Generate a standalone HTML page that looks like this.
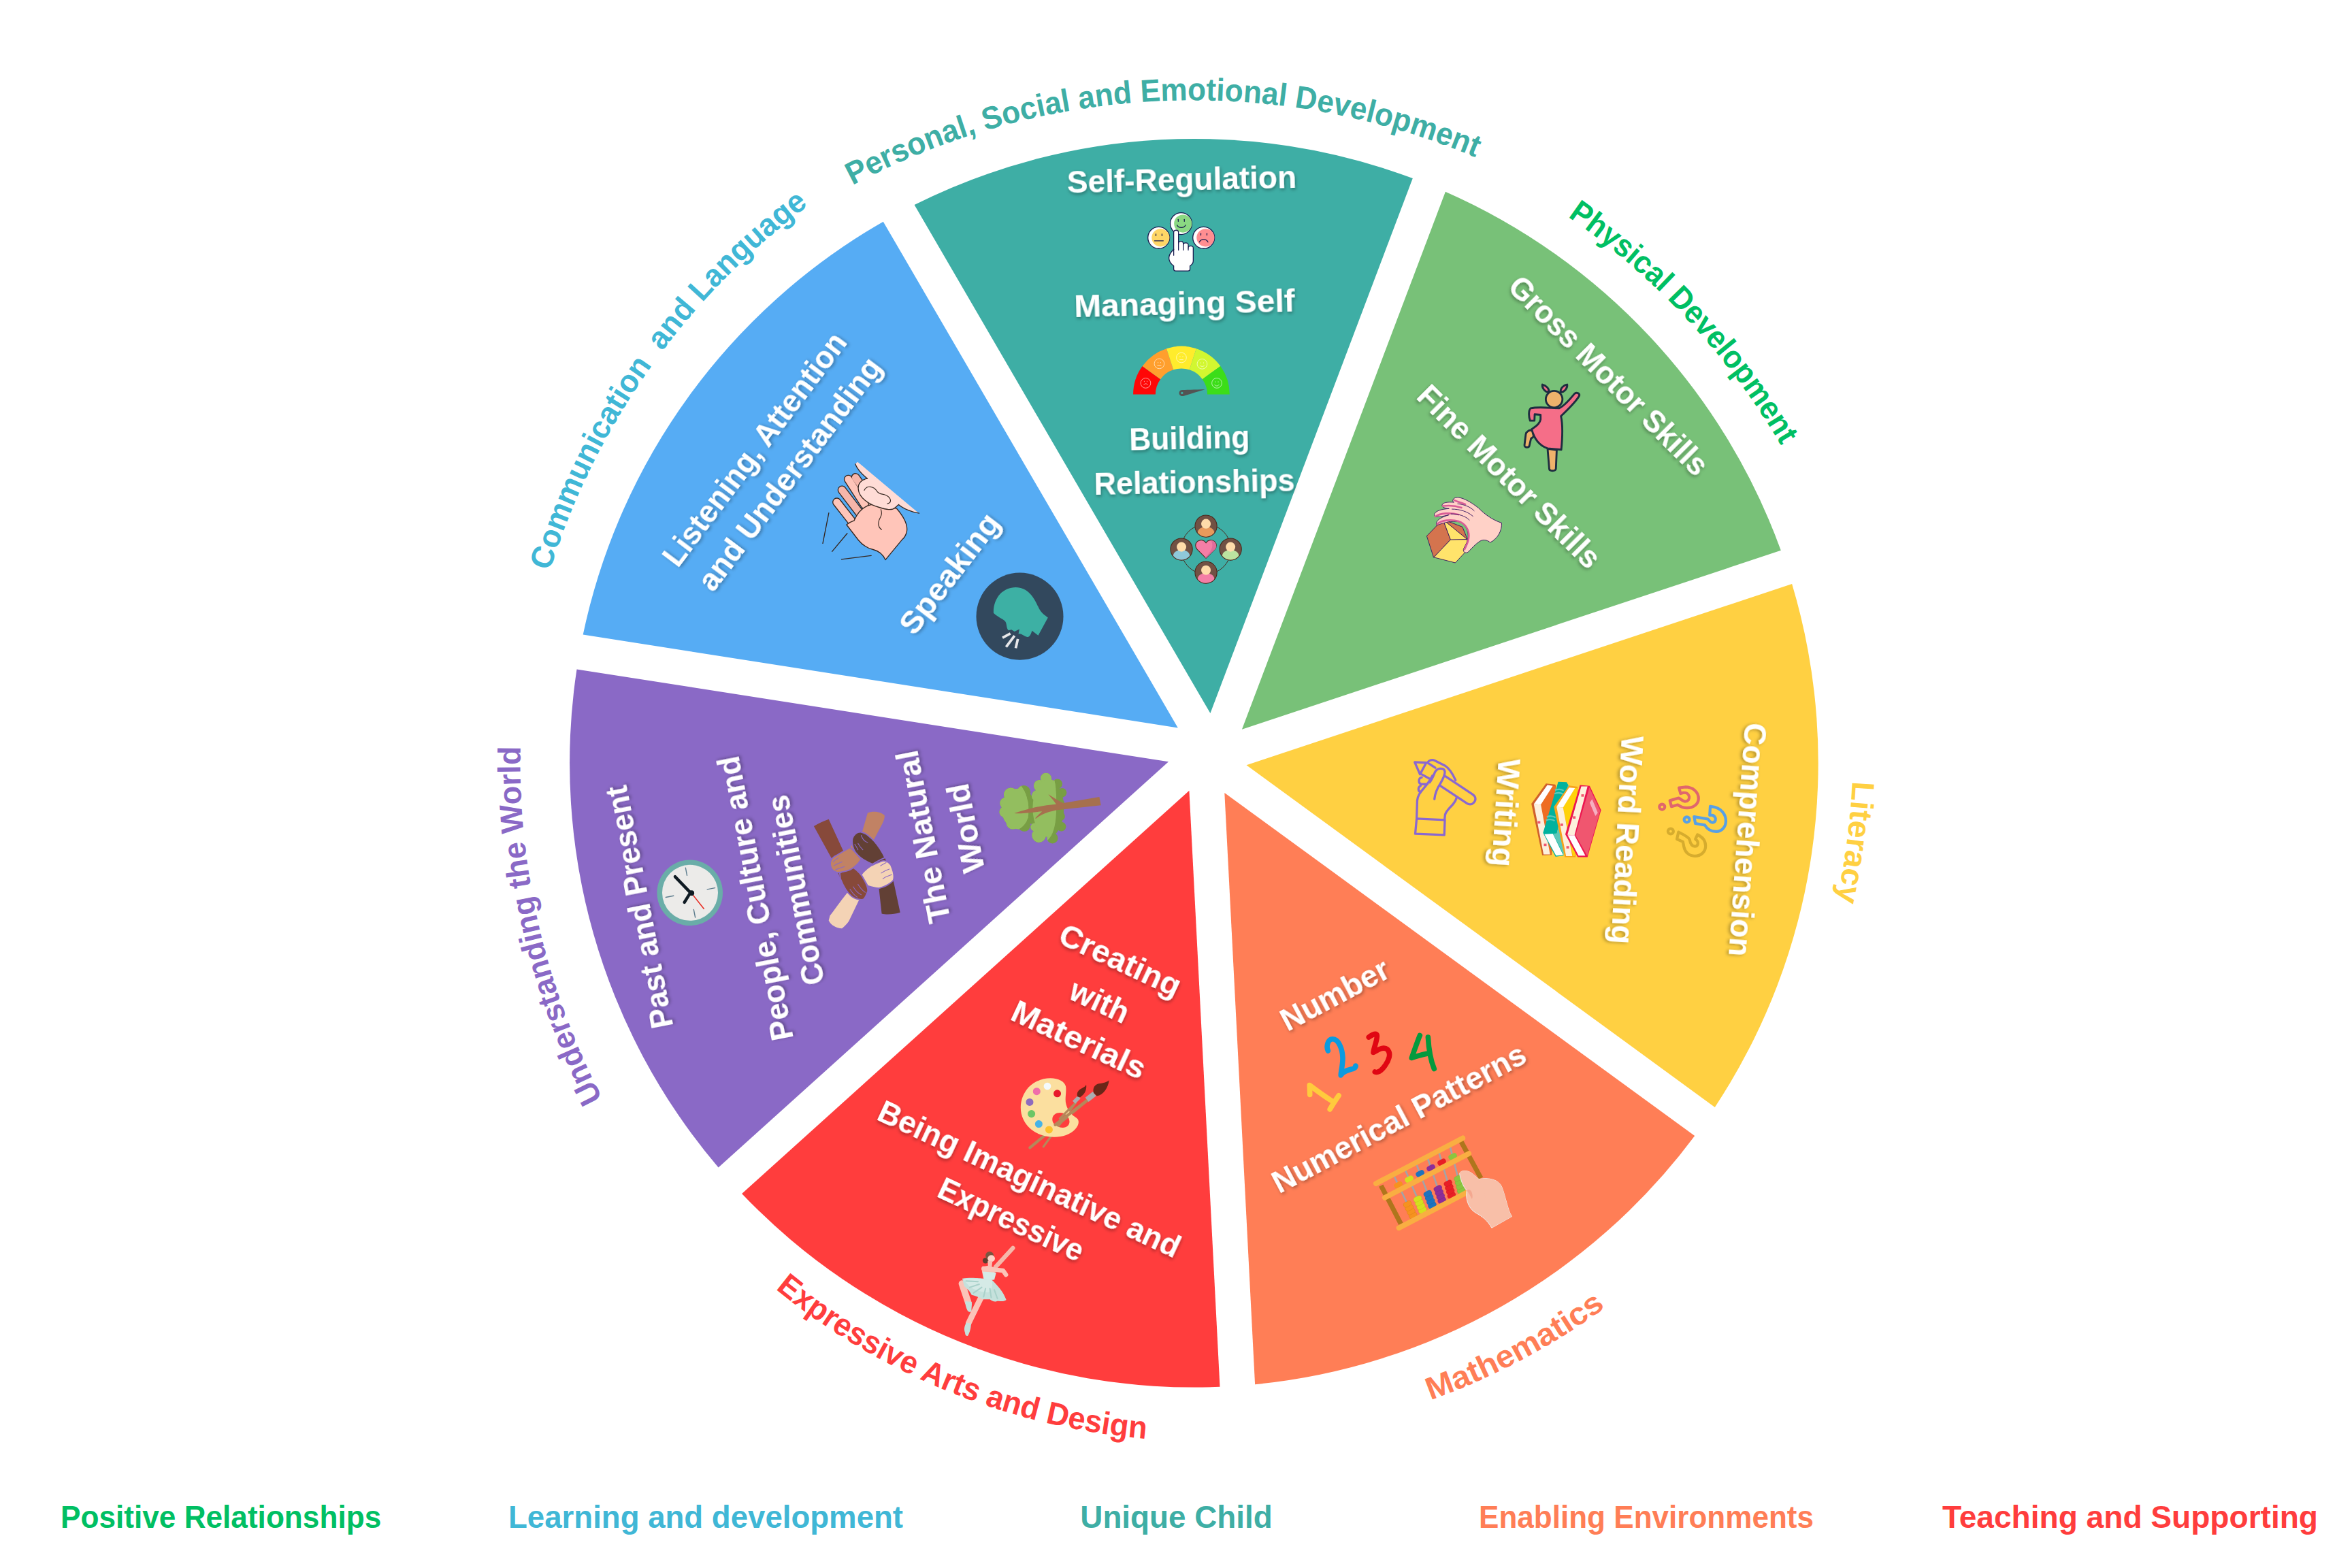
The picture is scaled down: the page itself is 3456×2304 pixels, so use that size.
<!DOCTYPE html>
<html><head><meta charset="utf-8"><style>html,body{margin:0;padding:0;background:#fff;overflow:hidden}svg{display:block}</style></head>
<body><svg xmlns="http://www.w3.org/2000/svg" width="3456" height="2304" viewBox="0 0 3456 2304" font-family="'Liberation Sans', sans-serif" font-weight="bold">
<defs>
<filter id="sh" x="-10%" y="-30%" width="120%" height="160%"><feDropShadow dx="1" dy="2.5" stdDeviation="2.5" flood-color="#000" flood-opacity="0.35"/></filter>
<path id="c_psed" d="M1252.6,272.2 A1066,1066 0 0 1 2478.9,432.4"/>
<path id="c_phys" d="M2303.6,318.3 A1066,1066 0 0 1 2747.0,1001.3"/>
<path id="c_lit" d="M2721.9,1147.8 A1066,1066 0 0 1 2558.1,1666.5"/>
<path id="c_math" d="M2102.0,2057.3 A1014.7,1014.7 0 0 0 2603.4,1667.0"/>
<path id="c_ead" d="M1139.4,1894.0 A995.7,995.7 0 0 0 2028.4,2083.1"/>
<path id="c_utw" d="M885.7,1614.1 A1066,1066 0 0 1 837.2,733.6"/>
<path id="c_cl" d="M807.9,839.2 A1066,1066 0 0 1 1518.8,135.5"/>
</defs>
<rect width="3456" height="2304" fill="#fff"/>
<path fill="#3EAEA5" d="M1778.4,1048.1 L1343.6,301.1 A917.3,917.3 0 0 1 2075.8,262.1 Z"/>
<path fill="#78C178" d="M1824.9,1071.7 L2123.9,281.7 A917.3,917.3 0 0 1 2616.8,808.8 Z"/>
<path fill="#FFD042" d="M1831.5,1124.2 L2633.1,858.0 A917.3,917.3 0 0 1 2519.8,1626.9 Z"/>
<path fill="#FF7E56" d="M1799.3,1164.9 L2490.2,1669.1 A917.3,917.3 0 0 1 1844.1,2034.2 Z"/>
<path fill="#FF3D3D" d="M1747.4,1161.8 L1792.5,2037.8 A917.3,917.3 0 0 1 1090.1,1753.9 Z"/>
<path fill="#8A69C6" d="M1717.0,1119.3 L1055.6,1715.5 A917.3,917.3 0 0 1 847.5,983.4 Z"/>
<path fill="#56ACF4" d="M1730.8,1069.4 L856.7,932.5 A917.3,917.3 0 0 1 1297.8,325.7 Z"/>
<g id="speakhead" transform="translate(1430,840) scale(0.08929)">
<circle cx="767" cy="735" r="717" fill="#32485D"/>
<path fill="#3DB0A4" d="M335,680 C330,420 500,258 700,258 C900,260 1000,420 1080,600 C1120,680 1180,720 1230,755 L1070,1050 L968,972 C950,1030 930,1080 890,1075 C840,1070 800,1010 745,1025 L760,945 L680,985 L630,955 L580,965 C540,930 560,850 520,810 C480,770 420,760 335,680 Z"/>
<g stroke="#E8E8EA" stroke-width="42"><line x1="482" y1="1088" x2="612" y2="1018"/><line x1="542" y1="1238" x2="680" y2="1055"/><line x1="700" y1="1258" x2="735" y2="1108"/></g>
</g>
<g id="earhand" transform="translate(1200,670) scale(0.10204)" stroke-linejoin="round" stroke-linecap="round">
<path fill="#FFDCD6" d="M590,85 L1460,815 C1380,815 1250,760 1180,700 L1100,770 L700,700 L600,480 L620,380 L730,325 C660,270 590,200 555,115 Z"/>
<path fill="none" stroke="#35261F" stroke-width="13" d="M555,115 C590,200 660,270 730,325 M1180,700 C1250,760 1380,815 1475,825"/>
<g stroke="#35261F" stroke-width="13" fill="none"><line x1="175" y1="820" x2="88" y2="1258"/><line x1="440" y1="1115" x2="222" y2="1375"/><line x1="785" y1="1435" x2="358" y2="1488"/></g>
<g stroke="#35261F" stroke-width="128"><line x1="560" y1="310" x2="660" y2="450"/><line x1="455" y1="335" x2="690" y2="700"/><line x1="365" y1="490" x2="640" y2="850"/><line x1="290" y1="665" x2="560" y2="1010"/></g>
<g stroke-width="102"><line x1="560" y1="310" x2="660" y2="450" stroke="#F6B6AA"/><line x1="455" y1="335" x2="690" y2="700" stroke="#FFC5B9"/><line x1="365" y1="490" x2="640" y2="850" stroke="#F6B6AA"/><line x1="290" y1="665" x2="560" y2="1010" stroke="#FFC5B9"/></g>
<path fill="#FFC5B9" stroke="#35261F" stroke-width="13" d="M540,930 C600,790 690,720 790,700 L1150,755 C1250,870 1320,1000 1295,1100 C1280,1150 1260,1180 1235,1200 L990,1495 C950,1410 900,1370 820,1350 C720,1325 660,1285 600,1210 L430,990 C470,960 510,940 540,930 Z"/>
<path fill="#FFDCD6" stroke="#35261F" stroke-width="13" d="M730,325 C640,340 590,400 600,480 C610,600 750,700 900,740 C1000,770 1080,790 1130,745 L1180,700"/>
<path fill="none" stroke="#35261F" stroke-width="11" d="M685,495 C720,420 820,430 870,510 C910,560 950,540 1010,570 C1080,610 1080,680 1015,688 M925,770 C950,840 920,880 900,920 C880,980 890,1030 935,1060"/>
</g>
<g id="girl" transform="translate(2230,555) scale(0.0957)" stroke="#1E2D40" stroke-width="30" stroke-linejoin="round" stroke-linecap="round">
<path fill="#F56E88" d="M380,105 C440,120 490,170 480,225 C420,220 370,160 380,105 Z"/>
<path fill="#F56E88" d="M760,105 C700,115 650,170 660,225 C720,220 770,160 760,105 Z"/>
<path fill="#EEB26B" d="M460,1090 L600,1110 L588,1395 C585,1440 485,1440 485,1395 Z"/>
<path fill="#EEB26B" d="M160,820 C190,800 225,805 235,830 L245,905 L205,935 L180,1045 C170,1080 100,1075 105,1035 L125,870 C130,845 140,830 160,820 Z"/>
<path fill="#F56E88" d="M200,470 C320,440 540,470 640,468 C700,440 780,360 870,250 C900,215 960,240 945,280 C900,360 760,500 665,590 C695,720 690,900 670,1105 L460,1085 C340,1045 260,960 215,790 C260,760 340,720 352,640 L352,570 L262,562 L258,660 L192,660 C168,600 165,500 200,470 Z"/>
<circle cx="560" cy="330" r="128" fill="#EEB26B"/>
</g>

<g id="selfreg" transform="translate(1680,305) scale(0.06377)" stroke="#171A4E" stroke-linecap="round" stroke-linejoin="round">
<circle cx="355" cy="695" r="250" fill="#fff" stroke-width="20"/>
<circle cx="398" cy="695" r="205" fill="#FFD666" stroke="none"/>
<circle cx="870" cy="370" r="250" fill="#fff" stroke-width="20"/>
<circle cx="913" cy="370" r="205" fill="#8BD882" stroke="none"/>
<circle cx="1390" cy="695" r="250" fill="#fff" stroke-width="20"/>
<circle cx="1433" cy="695" r="205" fill="#FF8E91" stroke="none"/>
<g stroke-width="20" fill="none">
<line x1="290" y1="608" x2="290" y2="650"/><line x1="430" y1="608" x2="430" y2="650"/><line x1="258" y1="765" x2="460" y2="765"/>
<line x1="805" y1="272" x2="805" y2="318"/><line x1="945" y1="272" x2="945" y2="318"/><path d="M778,405 C810,480 940,480 972,405"/>
<line x1="1325" y1="600" x2="1325" y2="636"/><line x1="1465" y1="600" x2="1465" y2="636"/><path d="M1292,795 C1330,715 1450,715 1490,795"/>
</g>
<path fill="#fff" stroke-width="20" d="M700,960 L700,570 C700,505 810,505 810,570 L810,830 C810,760 920,760 920,830 L920,860 C920,800 1035,800 1035,860 L1035,930 C1035,870 1150,870 1150,930 L1150,1230 C1150,1280 1110,1320 1075,1345 L1075,1420 C1075,1445 1055,1460 1030,1460 L745,1460 C715,1460 700,1440 700,1415 L700,1345 C640,1300 590,1240 590,1160 C590,1080 640,1020 700,960 Z"/>
<g stroke-width="20" fill="none"><line x1="810" y1="830" x2="810" y2="980"/><line x1="920" y1="860" x2="920" y2="980"/><line x1="1035" y1="930" x2="1035" y2="980"/><line x1="700" y1="960" x2="700" y2="1100"/></g>
</g>
<g id="gauge" transform="translate(1655,500) scale(0.068027)">
<path fill="#FF0707" d="M148,1170 A1042,1042 0 0 1 346.98,557.54 L736.94,840.89 A560,560 0 0 0 630,1170 Z"/>
<path fill="#FF9F2D" d="M346.98,557.54 A1042,1042 0 0 1 868.00,179.02 L1016.96,637.41 A560,560 0 0 0 736.94,840.89 Z"/>
<path fill="#FFEC2C" d="M868.00,179.02 A1042,1042 0 0 1 1512.00,179.02 L1363.04,637.41 A560,560 0 0 0 1016.96,637.41 Z"/>
<path fill="#D2F730" d="M1512.00,179.02 A1042,1042 0 0 1 2033.02,557.54 L1643.06,840.89 A560,560 0 0 0 1363.04,637.41 Z"/>
<path fill="#3CDD19" d="M2033.02,557.54 A1042,1042 0 0 1 2232,1170 L1750,1170 A560,560 0 0 0 1643.06,840.89 Z"/>
<g fill="none" stroke="#fff" stroke-width="9">
<circle cx="418" cy="925" r="108"/><circle cx="712" cy="505" r="108"/><circle cx="1190" cy="375" r="108"/><circle cx="1638" cy="512" r="108"/><circle cx="1955" cy="925" r="108"/>
<path d="M375,965 C400,930 440,930 465,965 M668,548 L756,548 M1148,420 L1232,420 M1595,548 C1620,570 1660,570 1685,548 M1905,958 C1935,995 1975,995 2005,958"/>
<path d="M388,878 L388,900 M448,878 L448,900 M685,470 L685,492 M742,470 L742,492 M1160,342 L1160,362 M1220,342 L1220,362 M1608,478 L1608,498 M1668,478 L1668,498 M1925,888 L1925,910 M1985,888 L1985,910"/>
</g>
<path fill="#535353" d="M1185,1075 C1250,1070 1500,1065 1700,1062 C1500,1120 1320,1180 1230,1205 C1180,1215 1140,1180 1140,1140 C1140,1105 1160,1080 1185,1075 Z"/>
<circle cx="1203" cy="1138" r="25" fill="#3EAEA5"/>
</g>
<g id="people" transform="translate(1715,750) scale(0.07334)" stroke="#4A2418" stroke-width="14">
<defs>
<clipPath id="pc1"><circle cx="778" cy="315" r="212"/></clipPath>
<clipPath id="pc2"><circle cx="287" cy="778" r="212"/></clipPath>
<clipPath id="pc3"><circle cx="1270" cy="778" r="212"/></clipPath>
<clipPath id="pc4"><circle cx="778" cy="1243" r="212"/></clipPath>
</defs>
<circle cx="778" cy="778" r="498" fill="none" stroke-width="13"/>
<circle cx="778" cy="315" r="220" fill="#715144"/>
<circle cx="287" cy="778" r="220" fill="#715144"/>
<circle cx="1270" cy="778" r="220" fill="#715144"/>
<circle cx="778" cy="1243" r="220" fill="#715144"/>
<g stroke="none">
<ellipse cx="778" cy="440" rx="165" ry="112" fill="#E89A5C" clip-path="url(#pc1)"/>
<ellipse cx="287" cy="903" rx="165" ry="112" fill="#8FC8DA" clip-path="url(#pc2)"/>
<ellipse cx="1270" cy="903" rx="165" ry="112" fill="#BCE3A0" clip-path="url(#pc3)"/>
<ellipse cx="778" cy="1368" rx="165" ry="112" fill="#F47EA6" clip-path="url(#pc4)"/>
<circle cx="778" cy="268" r="96" fill="#FFDCAA"/>
<circle cx="287" cy="731" r="96" fill="#FFDCAA"/>
<circle cx="1270" cy="731" r="96" fill="#FFDCAA"/>
<circle cx="778" cy="1196" r="96" fill="#FFDCAA"/>
</g>
<path fill="#F47EA6" d="M778,650 C740,590 660,580 610,620 C560,660 555,730 600,780 L778,958 L955,780 C1000,730 995,660 945,620 C895,580 815,590 778,650 Z"/>
<path fill="#E06C9B" stroke="none" d="M870,600 C930,600 985,640 985,710 C985,750 970,770 945,795 L778,955 L760,940 C850,860 900,790 905,710 C908,660 895,625 870,600 Z"/>
</g>

<g id="cubehand" transform="translate(2090,720) scale(0.070135)" stroke="#33115E" stroke-width="13" stroke-linejoin="round" stroke-linecap="round">
<path fill="#D4744E" d="M95,960 L430,615 L590,1040 L240,1410 Z"/>
<path fill="#FFE36B" d="M590,1040 L240,1410 L690,1525 L900,1300 L945,1035 Z"/>
<path fill="#FFE36B" d="M430,615 L590,1040 L945,1035 Z"/>
<path fill="#D4744E" d="M430,615 L840,775 L945,1035 Z"/>
<path fill="#FFD1C7" d="M650,190 C700,110 900,160 1180,380 C1300,500 1450,620 1660,690 C1670,850 1580,1020 1420,1100 C1380,1060 1300,1030 1230,1060 C1150,1100 1050,1200 960,1300 C900,1340 840,1290 865,1230 C900,1150 960,1080 960,960 C955,800 870,690 760,665 C600,640 470,680 300,740 C260,640 400,570 560,520 C400,560 240,590 250,520 C260,440 400,400 560,390 C420,380 400,330 420,300 C450,250 600,250 660,260 C630,240 630,210 650,190 Z"/>
<g fill="none" stroke="#D95C96" stroke-width="36"><path d="M310,715 C400,630 600,610 760,655 C900,700 975,830 975,960 C975,1080 915,1180 885,1245"/><path d="M270,555 C380,480 600,470 760,515"/><path d="M430,335 C550,320 700,330 820,370"/><path d="M670,215 C720,240 800,262 900,300"/></g>
<g fill="none"><path d="M1060,550 C950,450 780,400 620,400"/><path d="M1085,435 C1000,350 870,300 740,290"/><path d="M985,630 C900,540 750,500 600,500"/></g>
</g>
<g id="pencilhand" transform="translate(2070,1105) scale(0.082893)" fill="none" stroke="#8A68D0" stroke-width="40" stroke-linejoin="round" stroke-linecap="round">
<path d="M140,1180 L640,1205 L630,1470 L115,1450 Z"/>
<path d="M140,1180 L150,860 C160,770 200,720 260,650 C330,570 380,500 420,420"/>
<path d="M635,1200 L645,1110 C660,1050 720,1000 780,930 C820,880 840,840 845,815"/>
<path d="M455,835 C465,740 500,650 560,560 C600,490 640,420 640,360 C640,300 600,290 550,295 C500,300 470,340 455,380 C430,440 400,500 370,540"/>
<path d="M650,430 L1130,750 C1190,790 1200,850 1150,900 C1110,940 1060,930 1030,910 L560,600"/>
<path d="M105,180 L310,190 L200,395 Z"/>
<path d="M330,190 C360,140 420,130 460,150 L640,240 C720,290 780,390 830,500"/>
<path d="M340,195 L470,280 M220,390 L380,480"/>
<path d="M230,450 C170,460 160,560 230,570 L330,570 M210,600 C160,620 160,700 210,710"/>
</g>
<g id="books" transform="translate(2245,1140) scale(0.079696)">
<path fill="#D0602A" d="M65,515 L335,140 L505,160 L515,185 L440,1460 L265,1465 Z"/>
<path fill="#EE6D22" d="M240,530 L460,185 L505,185 L430,1450 L405,1450 Z"/>
<path fill="#fff" d="M110,520 L360,170 L460,185 L240,530 Z"/>
<path fill="#FDF0DC" d="M110,520 L240,530 L410,1450 L290,1450 Z"/>
<path fill="#00B29E" d="M280,1050 L560,110 L715,115 L745,170 L535,1060 L660,1470 L510,1490 Z"/>
<g fill="none" stroke="#5CC8B8" stroke-width="30"><path d="M500,265 C550,240 620,245 660,275 M490,330 C540,305 610,310 650,340 M350,760 C400,735 470,740 510,770 M335,820 C385,795 455,800 495,830"/></g>
<path fill="#5CC8B8" d="M465,1065 L535,1060 L740,170 L760,175 L660,1460 Z"/>
<path fill="#fff" d="M305,1075 L460,1065 L650,1460 L520,1470 Z"/>
<path fill="#F7A21B" d="M480,570 L760,180 L920,200 L880,1500 L680,1500 Z"/>
<path fill="#FFD20A" d="M650,585 L870,225 L910,230 L865,1480 L830,1480 Z"/>
<path fill="#fff" d="M530,570 L760,215 L870,225 L650,585 Z"/>
<path fill="#FDF0DC" d="M530,570 L650,585 L820,1480 L705,1480 Z"/>
<path fill="#EC1650" d="M690,1080 L960,170 L1140,185 L1350,630 L1100,1500 L920,1500 Z"/>
<path fill="#FDF0DC" d="M730,1090 L985,195 L1100,195 L860,1095 Z"/>
<path fill="#fff" d="M735,1095 L860,1095 L1060,1470 L935,1470 Z"/>
<path fill="#F0566F" d="M880,1095 L1135,215 L1335,640 L1095,1475 Z"/>
<path fill="#F6AFC0" d="M1140,495 L1185,430 L1290,680 L1245,740 Z"/>
<g fill="#F0566F"><rect x="180" y="835" width="50" height="45"/><rect x="295" y="1250" width="50" height="45"/><rect x="600" y="880" width="50" height="45"/><rect x="710" y="1295" width="50" height="45"/><rect x="985" y="340" width="50" height="45"/><rect x="830" y="745" width="50" height="45"/></g>
</g>
<g id="qmarks" transform="translate(2430,1145) scale(0.07651)" fill="none" stroke-width="55" stroke-linejoin="round" stroke-linecap="round">
<g stroke="#E0666C"><path d="M485,165 L600,150 C760,150 860,250 860,370 C860,480 760,550 640,550 C560,550 500,520 460,490 L340,525 L310,410 L480,360 C520,380 560,430 610,425 C660,420 690,380 680,330 C670,280 620,250 560,260 L515,275 Z"/><circle cx="160" cy="530" r="52"/></g>
<g stroke="#57A0E6"><path d="M1085,520 L1110,525 C1300,545 1385,680 1385,800 C1385,920 1300,1005 1200,1005 C1100,1005 1020,950 980,880 L800,850 L775,720 L1040,765 C1070,805 1100,840 1140,830 C1190,815 1200,760 1170,720 C1150,695 1110,685 1075,692 Z"/><circle cx="635" cy="775" r="52"/></g>
<g stroke="#D6AC2E"><path d="M475,1015 C580,1065 680,1130 690,1165 C700,1225 720,1285 790,1290 C850,1290 862,1220 832,1180 L800,1150 L840,1065 C950,1115 995,1200 995,1280 C995,1400 900,1475 790,1475 C680,1475 600,1400 580,1300 L560,1200 L445,1150 Z"/><circle cx="325" cy="1000" r="52"/></g>
</g>

<g id="clock">
<circle cx="1013.7" cy="1311.8" r="48.3" fill="#6AADA8"/>
<circle cx="1014" cy="1311.8" r="41" fill="#ECEBE9"/>
<g stroke="#5E7D8E" stroke-width="1.4" stroke-linecap="round">
<line x1="1007.4" y1="1275.3" x2="1009.5" y2="1286.4"/>
<line x1="1039.2" y1="1306.9" x2="1050.6" y2="1304.6"/>
<line x1="978.3" y1="1318.5" x2="989.8" y2="1316.2"/>
<line x1="1019.3" y1="1336.5" x2="1021.6" y2="1348"/>
</g>
<g stroke="#0F1A22" stroke-width="4.4" stroke-linecap="round" fill="none">
<path d="M991.9,1288.1 L1014.5,1311.6 L1005.6,1326.0"/>
</g>
<line x1="1016.5" y1="1313" x2="1034.6" y2="1335.7" stroke="#E8271E" stroke-width="1.5"/>
<circle cx="1016.2" cy="1312.2" r="3.9" fill="#0F1A22"/>
</g>

<g id="abacus" transform="translate(2010,1660) scale(0.098833)">
<line x1="195" y1="830" x2="490" y2="1400" stroke="#AF751C" stroke-width="72" stroke-linecap="butt"/>
<line x1="1385" y1="175" x2="1680" y2="720" stroke="#AF751C" stroke-width="72" stroke-linecap="butt"/>
<line x1="378" y1="665" x2="699" y2="1336" stroke="#A2A4A8" stroke-width="26" stroke-linecap="butt"/>
<line x1="546" y1="577" x2="840" y2="1262" stroke="#A2A4A8" stroke-width="26" stroke-linecap="butt"/>
<line x1="713" y1="490" x2="981" y2="1189" stroke="#A2A4A8" stroke-width="26" stroke-linecap="butt"/>
<line x1="881" y1="402" x2="1122" y2="1115" stroke="#A2A4A8" stroke-width="26" stroke-linecap="butt"/>
<line x1="1049" y1="314" x2="1263" y2="1042" stroke="#A2A4A8" stroke-width="26" stroke-linecap="butt"/>
<line x1="1216" y1="226" x2="1404" y2="968" stroke="#A2A4A8" stroke-width="26" stroke-linecap="butt"/>
<rect x="-66" y="-40" width="132" height="80" rx="40" fill="#F6921E" transform="translate(452,820) rotate(-27.6)"/>
<rect x="-64" y="-38" width="128" height="76" rx="38" fill="#F6921E" stroke="#0002" stroke-width="4" transform="translate(669,1273) rotate(-27.6)"/>
<rect x="-64" y="-38" width="128" height="76" rx="38" fill="#F6921E" stroke="#0002" stroke-width="4" transform="translate(642,1217) rotate(-27.6)"/>
<rect x="-64" y="-38" width="128" height="76" rx="38" fill="#F6921E" stroke="#0002" stroke-width="4" transform="translate(615,1161) rotate(-27.6)"/>
<rect x="-64" y="-38" width="128" height="76" rx="38" fill="#F6921E" stroke="#0002" stroke-width="4" transform="translate(588,1105) rotate(-27.6)"/>
<rect x="-66" y="-40" width="132" height="80" rx="40" fill="#D4E01E" transform="translate(613,735) rotate(-27.6)"/>
<rect x="-64" y="-38" width="128" height="76" rx="38" fill="#D4E01E" stroke="#0002" stroke-width="4" transform="translate(812,1198) rotate(-27.6)"/>
<rect x="-64" y="-38" width="128" height="76" rx="38" fill="#D4E01E" stroke="#0002" stroke-width="4" transform="translate(788,1141) rotate(-27.6)"/>
<rect x="-64" y="-38" width="128" height="76" rx="38" fill="#D4E01E" stroke="#0002" stroke-width="4" transform="translate(763,1084) rotate(-27.6)"/>
<rect x="-64" y="-38" width="128" height="76" rx="38" fill="#D4E01E" stroke="#0002" stroke-width="4" transform="translate(739,1027) rotate(-27.6)"/>
<rect x="-66" y="-40" width="132" height="80" rx="40" fill="#1E73BE" transform="translate(775,651) rotate(-27.6)"/>
<rect x="-64" y="-38" width="128" height="76" rx="38" fill="#1E73BE" stroke="#0002" stroke-width="4" transform="translate(956,1123) rotate(-27.6)"/>
<rect x="-64" y="-38" width="128" height="76" rx="38" fill="#1E73BE" stroke="#0002" stroke-width="4" transform="translate(934,1066) rotate(-27.6)"/>
<rect x="-64" y="-38" width="128" height="76" rx="38" fill="#1E73BE" stroke="#0002" stroke-width="4" transform="translate(912,1008) rotate(-27.6)"/>
<rect x="-64" y="-38" width="128" height="76" rx="38" fill="#1E73BE" stroke="#0002" stroke-width="4" transform="translate(889,950) rotate(-27.6)"/>
<rect x="-66" y="-40" width="132" height="80" rx="40" fill="#8C2D98" transform="translate(937,567) rotate(-27.6)"/>
<rect x="-64" y="-38" width="128" height="76" rx="38" fill="#8C2D98" stroke="#0002" stroke-width="4" transform="translate(1099,1049) rotate(-27.6)"/>
<rect x="-64" y="-38" width="128" height="76" rx="38" fill="#8C2D98" stroke="#0002" stroke-width="4" transform="translate(1080,990) rotate(-27.6)"/>
<rect x="-64" y="-38" width="128" height="76" rx="38" fill="#8C2D98" stroke="#0002" stroke-width="4" transform="translate(1060,932) rotate(-27.6)"/>
<rect x="-64" y="-38" width="128" height="76" rx="38" fill="#8C2D98" stroke="#0002" stroke-width="4" transform="translate(1040,873) rotate(-27.6)"/>
<rect x="-66" y="-40" width="132" height="80" rx="40" fill="#E81E25" transform="translate(1098,482) rotate(-27.6)"/>
<rect x="-64" y="-38" width="128" height="76" rx="38" fill="#E81E25" stroke="#0002" stroke-width="4" transform="translate(1243,975) rotate(-27.6)"/>
<rect x="-64" y="-38" width="128" height="76" rx="38" fill="#E81E25" stroke="#0002" stroke-width="4" transform="translate(1226,915) rotate(-27.6)"/>
<rect x="-64" y="-38" width="128" height="76" rx="38" fill="#E81E25" stroke="#0002" stroke-width="4" transform="translate(1208,856) rotate(-27.6)"/>
<rect x="-64" y="-38" width="128" height="76" rx="38" fill="#E81E25" stroke="#0002" stroke-width="4" transform="translate(1191,796) rotate(-27.6)"/>
<rect x="-66" y="-40" width="132" height="80" rx="40" fill="#8BC53F" transform="translate(1260,398) rotate(-27.6)"/>
<rect x="-64" y="-38" width="128" height="76" rx="38" fill="#8BC53F" stroke="#0002" stroke-width="4" transform="translate(1387,901) rotate(-27.6)"/>
<rect x="-64" y="-38" width="128" height="76" rx="38" fill="#8BC53F" stroke="#0002" stroke-width="4" transform="translate(1372,840) rotate(-27.6)"/>
<rect x="-64" y="-38" width="128" height="76" rx="38" fill="#8BC53F" stroke="#0002" stroke-width="4" transform="translate(1356,780) rotate(-27.6)"/>
<rect x="-64" y="-38" width="128" height="76" rx="38" fill="#8BC53F" stroke="#0002" stroke-width="4" transform="translate(1341,720) rotate(-27.6)"/>
<line x1="120" y1="800" x2="1410" y2="125" stroke="#F9AE42" stroke-width="78" stroke-linecap="round"/>
<line x1="250" y1="1010" x2="1500" y2="355" stroke="#F9AE42" stroke-width="78" stroke-linecap="round"/>
<line x1="460" y1="1460" x2="1545" y2="895" stroke="#F9AE42" stroke-width="78" stroke-linecap="round"/>
<path fill="#F8BFA8" stroke="#EDEFF0" stroke-width="10" d="M1362,650 C1390,595 1480,600 1550,650 L1650,735 C1800,705 1950,745 1990,850 C2050,1000 2075,1190 2140,1290 L1840,1460 C1780,1350 1700,1290 1600,1235 C1480,1160 1450,1010 1470,905 C1420,850 1380,760 1362,650 Z"/>
<path fill="#F8BFA8" d="M1362,650 C1390,595 1480,600 1550,650 L1650,735 C1800,705 1950,745 1990,850 C2050,1000 2075,1190 2140,1290 L1845,1455 L1700,800 Z"/>
<path fill="#F4A890" d="M1470,905 C1500,870 1540,900 1550,950 C1560,990 1555,1020 1545,1030 C1520,980 1500,940 1470,905 Z"/>
</g>
<g id="numbers" transform="translate(1910,1500) scale(0.089286)" fill="none" stroke-width="85" stroke-linecap="round" stroke-linejoin="round">
<path stroke="#FFCB3D" d="M165,1215 L160,1060 C280,1150 400,1240 530,1320 M640,1230 C590,1300 540,1380 495,1455"/>
<path stroke="#0B9BE0" d="M463,492 C430,420 460,300 540,300 C640,300 700,470 705,600 C710,720 670,860 675,895 C720,820 800,810 870,790 C900,780 925,760 918,740"/>
<path stroke="#E00713" d="M1135,270 C1200,220 1270,190 1270,250 C1270,330 1220,430 1210,520 C1300,470 1380,420 1440,470 C1510,540 1460,660 1400,740 C1350,810 1290,860 1235,840"/>
<path stroke="#049A3E" d="M1975,240 C1950,300 1900,440 1840,610 C1920,580 2000,560 2090,540 M2110,270 C2120,450 2140,620 2210,790"/>
</g>
<g id="palette" transform="translate(1490,1580) scale(0.076531)">
<g stroke="#B5885A" stroke-linecap="round"><line x1="305" y1="1390" x2="1420" y2="470" stroke-width="55"/><line x1="565" y1="1370" x2="1180" y2="530" stroke-width="42"/></g>
<path fill="#FBDF9F" fill-rule="evenodd" d="M700,55 C850,55 980,120 995,220 C1010,330 970,450 1000,560 C1030,680 1100,760 1200,820 C1260,860 1250,950 1180,1030 C1080,1150 900,1190 760,1185 C500,1180 280,1060 180,850 C80,640 130,400 280,230 C400,110 550,55 700,55 Z M735,850 C735,760 810,720 880,720 C980,720 1065,800 1065,890 C1065,960 1010,1005 940,1005 C830,1005 735,940 735,850 Z"/>
<g stroke="#B5885A" stroke-linecap="round"><line x1="790" y1="950" x2="1420" y2="470" stroke-width="55"/><line x1="880" y1="830" x2="1180" y2="530" stroke-width="42"/></g>
<g stroke="#A9ADB0" stroke-width="75"><line x1="1150" y1="520" x2="1250" y2="420"/></g>
<g stroke="#A9ADB0" stroke-width="105"><line x1="1400" y1="470" x2="1545" y2="355"/></g>
<path fill="#6A2618" d="M1220,410 C1190,330 1250,270 1300,250 C1350,230 1380,200 1385,180 C1400,260 1370,360 1270,420 Z"/>
<path fill="#6A2618" d="M1530,340 C1500,240 1560,170 1630,160 C1720,150 1790,130 1825,95 C1810,230 1720,380 1590,400 Z"/>
<g><circle cx="640" cy="210" r="70" fill="#F4FAFC"/><circle cx="435" cy="310" r="72" fill="#F06EAA"/><circle cx="830" cy="350" r="72" fill="#E8192C"/><circle cx="300" cy="515" r="72" fill="#8E6BBE"/><circle cx="335" cy="740" r="72" fill="#6CC665"/><circle cx="475" cy="935" r="72" fill="#45B3E7"/><circle cx="672" cy="1045" r="72" fill="#FDC22B"/></g>
</g>
<g id="ballerina" transform="translate(1400,1825) scale(0.092507)" stroke-linecap="round" stroke-linejoin="round">
<line x1="680" y1="395" x2="955" y2="95" stroke="#F5B8AA" stroke-width="68"/>
<line x1="245" y1="960" x2="145" y2="660" stroke="#FBC4B8" stroke-width="105"/>
<path fill="#C5E1DC" d="M200,940 L300,950 C310,1000 290,1050 300,1100 C280,1120 240,1110 230,1080 C210,1040 195,990 200,940 Z"/>
<line x1="450" y1="880" x2="250" y2="1290" stroke="#FBC4B8" stroke-width="92"/>
<path fill="#C5E1DC" d="M215,1280 L290,1295 C290,1360 270,1440 240,1490 C215,1500 195,1480 195,1440 C180,1400 175,1350 215,1280 Z"/>
<circle cx="520" cy="295" r="45" fill="#5E3D2E"/>
<circle cx="585" cy="215" r="65" fill="#7A5641"/>
<ellipse cx="612" cy="262" rx="58" ry="55" fill="#FDD4CA"/>
<path fill="#F9C0B4" d="M555,300 L630,300 L620,390 L680,420 L640,600 L490,600 L455,420 C480,385 520,380 560,375 Z"/>
<path fill="none" stroke="#FBC4B8" stroke-width="70" d="M490,420 L800,455 L845,520"/>
<path fill="#D5EAE6" d="M470,470 L690,485 L660,600 L500,600 Z"/>
<path fill="#C5E1DC" d="M150,580 C300,560 450,580 480,580 L620,600 C700,680 800,780 850,920 C800,960 750,930 700,940 C660,960 620,930 590,910 L480,910 C420,880 350,850 300,840 C260,760 200,720 180,700 C170,650 160,610 150,580 Z"/>
<path fill="#D5EAE6" d="M170,585 C300,570 450,585 620,600 C640,680 620,780 560,800 C450,800 330,760 260,700 C220,660 190,620 170,585 Z"/>
<g stroke="#A9D1CA" stroke-width="22" fill="none"><path d="M210,620 L400,630 M270,720 L420,670 M330,810 L460,720 M490,870 L520,740 M610,880 L590,740 M710,900 L660,760"/></g>
</g>
<g id="tree" transform="translate(1460,1125) scale(0.076541)">
<defs>
<clipPath id="tl1"><path d="M0,0 L530,0 L530,390 C650,550 700,800 660,1000 C630,1100 560,1180 490,1215 L490,1500 L0,1500 Z"/></clipPath>
<clipPath id="tl2"><path d="M600,0 L1160,0 L1160,250 C1215,450 1215,800 1195,1000 C1175,1250 1100,1380 1020,1450 L1020,1700 L600,1700 Z"/></clipPath>
<g id="blob1"><circle cx="330" cy="560" r="135"/><circle cx="580" cy="510" r="130"/><circle cx="225" cy="720" r="105"/><circle cx="215" cy="890" r="105"/><circle cx="370" cy="1095" r="128"/><circle cx="590" cy="1150" r="115"/><circle cx="745" cy="720" r="110"/><circle cx="755" cy="1020" r="105"/><ellipse cx="480" cy="830" rx="330" ry="390"/></g>
<g id="blob2"><circle cx="1005" cy="245" r="105"/><circle cx="880" cy="385" r="110"/><circle cx="840" cy="580" r="110"/><circle cx="1225" cy="350" r="95"/><circle cx="1315" cy="520" r="88"/><circle cx="1290" cy="720" r="70"/><circle cx="1290" cy="975" r="80"/><circle cx="1300" cy="1170" r="90"/><circle cx="1130" cy="1390" r="105"/><circle cx="870" cy="1340" r="135"/><circle cx="790" cy="1180" r="80"/><ellipse cx="1050" cy="815" rx="300" ry="560"/></g>
</defs>
<use href="#blob1" fill="#789E44"/>
<use href="#blob1" fill="#93BE5F" clip-path="url(#tl1)"/>
<use href="#blob2" fill="#789E44"/>
<use href="#blob2" fill="#93BE5F" clip-path="url(#tl2)"/>
<path fill="#A6704E" d="M395,915 C600,850 900,760 1200,740 L1340,720 L2030,600 L2060,760 L1250,850 C1050,880 900,940 810,1020 L800,1010 C850,950 900,910 930,880 C700,900 550,930 395,915 Z M1050,550 C1150,620 1250,680 1340,720 L1200,740 C1150,660 1100,620 1050,550 Z"/>
</g>
<g id="hands" transform="translate(1190,1185) scale(0.11794)" stroke-linejoin="round">
<path fill="#87493A" d="M50,245 C100,215 170,185 235,160 L410,540 L560,790 C600,830 640,860 660,900 C700,960 730,1030 720,1060 C700,1110 690,1150 660,1160 C600,1165 560,1150 520,1120 C470,1080 420,1000 380,900 C360,850 340,790 300,700 Z"/>
<path fill="#C18264" d="M720,80 C780,55 880,60 930,110 C935,140 920,180 900,220 L800,410 L640,660 C600,720 560,760 500,790 C440,810 380,830 330,820 C280,810 250,760 255,700 C260,660 290,630 330,610 L500,510 L655,305 Z"/>
<path fill="#624035" d="M895,1335 C950,1350 1050,1345 1125,1320 L1045,945 L935,640 C900,560 860,500 800,430 C750,380 700,330 640,320 C590,315 550,350 530,400 C520,450 530,500 560,560 C600,620 680,680 780,720 L860,1015 Z"/>
<path fill="#F4D3B5" d="M235,1420 C260,1480 330,1515 400,1520 C450,1480 480,1440 490,1420 L605,1180 L720,990 C780,1010 830,1020 860,1020 C920,1000 990,980 1040,920 C1060,870 1040,800 1010,730 C980,690 940,670 900,680 C850,700 800,720 760,740 C700,780 660,820 640,850 L455,1090 C380,1180 300,1300 250,1360 Z"/>
<g stroke="#8A69C6" stroke-width="16">
<path fill="#87493A" d="M372,830 C440,790 500,760 540,760 C600,800 650,860 680,920 C710,980 730,1030 720,1060 C700,1110 690,1150 660,1160 C600,1165 560,1150 520,1120 C470,1080 420,1000 380,900 Z"/>
<path fill="#C18264" d="M640,660 C600,720 560,760 500,790 C440,810 380,830 330,820 C280,810 250,760 255,700 C260,660 290,630 330,610 L500,510 C560,560 600,610 640,660 Z"/>
<path fill="#624035" d="M935,640 C900,560 860,500 800,430 C750,380 700,330 640,320 C590,315 550,350 530,400 C520,450 530,500 560,560 C600,620 680,680 780,720 C830,690 880,660 935,640 Z"/>
<path fill="#F4D3B5" d="M720,990 C780,1010 830,1020 860,1020 C920,1000 990,980 1040,920 C1060,870 1040,800 1010,730 C980,690 940,670 900,680 C850,700 800,720 760,740 C700,780 660,820 640,850 C670,900 700,950 720,990 Z"/>
</g>
<g stroke="#8A69C6" stroke-width="9" fill="none" stroke-linecap="round"><path d="M290,690 C320,660 340,650 355,640 M300,740 C340,710 370,700 400,690 M320,790 C360,770 400,760 430,750 M600,460 C620,500 640,520 660,540 M560,470 C580,500 590,520 600,540 M640,360 C660,420 690,440 720,450 M880,740 C910,720 930,710 950,700 M890,830 C930,800 960,790 990,780 M910,900 C950,870 990,860 1020,850 M500,1030 C530,1080 560,1110 590,1130 M540,1000 C570,1050 600,1080 640,1100 M600,970 C630,1020 660,1050 690,1070"/></g>
</g>

<text font-size="46.5" fill="#3EAEA5" textLength="947.3" lengthAdjust="spacingAndGlyphs" xml:space="preserve"><textPath href="#c_psed">Personal, Social and Emotional Development</textPath></text>
<text font-size="46.5" fill="#00BF63" textLength="463.4" lengthAdjust="spacingAndGlyphs" xml:space="preserve"><textPath href="#c_phys">Physical Development</textPath></text>
<text font-size="46.5" fill="#FFD042" textLength="178.0" lengthAdjust="spacingAndGlyphs" xml:space="preserve"><textPath href="#c_lit">Literacy</textPath></text>
<text font-size="46.5" fill="#FF7E56" textLength="292.0" lengthAdjust="spacingAndGlyphs" xml:space="preserve"><textPath href="#c_math">Mathematics</textPath></text>
<text font-size="46.5" fill="#FF3D3D" textLength="596.3" lengthAdjust="spacingAndGlyphs" xml:space="preserve"><textPath href="#c_ead">Expressive Arts and Design</textPath></text>
<text font-size="46.5" fill="#8A69C6" textLength="537.0" lengthAdjust="spacingAndGlyphs" xml:space="preserve"><textPath href="#c_utw">Understanding the World</textPath></text>
<text font-size="46.5" fill="#40B7D6" textLength="669.1" lengthAdjust="spacingAndGlyphs" xml:space="preserve"><textPath href="#c_cl">Communication  and Language</textPath></text>
<text x="0" y="0" transform="translate(1568.2,283.5) rotate(-1.30)" font-size="46.5" fill="#fff" textLength="337.3" lengthAdjust="spacingAndGlyphs" text-anchor="start" filter="url(#sh)">Self-Regulation</text>
<text x="0" y="0" transform="translate(1578.7,466.0) rotate(-1.50)" font-size="46.5" fill="#fff" textLength="324.4" lengthAdjust="spacingAndGlyphs" text-anchor="start" filter="url(#sh)">Managing Self</text>
<text x="0" y="0" transform="translate(1659.6,661.5) rotate(-1.20)" font-size="46.5" fill="#fff" textLength="177.2" lengthAdjust="spacingAndGlyphs" text-anchor="start" filter="url(#sh)">Building</text>
<text x="0" y="0" transform="translate(1607.8,727.0) rotate(-1.10)" font-size="46.5" fill="#fff" textLength="295.0" lengthAdjust="spacingAndGlyphs" text-anchor="start" filter="url(#sh)">Relationships</text>
<text x="0" y="0" transform="translate(2213.4,424.0) rotate(45.00)" font-size="46.5" fill="#fff" textLength="393.4" lengthAdjust="spacingAndGlyphs" text-anchor="start" filter="url(#sh)">Gross Motor Skills</text>
<text x="0" y="0" transform="translate(2079.3,584.4) rotate(45.00)" font-size="46.5" fill="#fff" textLength="359.5" lengthAdjust="spacingAndGlyphs" text-anchor="start" filter="url(#sh)">Fine Motor Skills</text>
<text x="0" y="0" transform="translate(2564.1,1061.3) rotate(94.00)" font-size="46.5" fill="#fff" textLength="343.9" lengthAdjust="spacingAndGlyphs" text-anchor="start" filter="url(#sh)">Comprehension</text>
<text x="0" y="0" transform="translate(2383.0,1080.6) rotate(92.90)" font-size="46.5" fill="#fff" textLength="306.3" lengthAdjust="spacingAndGlyphs" text-anchor="start" filter="url(#sh)">Word Reading</text>
<text x="0" y="0" transform="translate(2202.0,1113.9) rotate(93.60)" font-size="46.5" fill="#fff" textLength="159.1" lengthAdjust="spacingAndGlyphs" text-anchor="start" filter="url(#sh)">Writing</text>
<text x="0" y="0" transform="translate(1891.9,1516.2) rotate(-28.00)" font-size="46.5" fill="#fff" textLength="173.8" lengthAdjust="spacingAndGlyphs" text-anchor="start" filter="url(#sh)">Number</text>
<text x="0" y="0" transform="translate(1879.6,1754.5) rotate(-28.00)" font-size="46.5" fill="#fff" textLength="415.4" lengthAdjust="spacingAndGlyphs" text-anchor="start" filter="url(#sh)">Numerical Patterns</text>
<text x="0" y="0" transform="translate(1552.3,1384.6) rotate(25.00)" font-size="46.5" fill="#fff" textLength="192.1" lengthAdjust="spacingAndGlyphs" text-anchor="start" filter="url(#sh)">Creating</text>
<text x="0" y="0" transform="translate(1609.2,1485.7) rotate(25.00)" font-size="46.5" fill="#fff" textLength="91.0" lengthAdjust="spacingAndGlyphs" text-anchor="middle" filter="url(#sh)">with</text>
<text x="0" y="0" transform="translate(1578.6,1542.2) rotate(25.00)" font-size="46.5" fill="#fff" textLength="212.5" lengthAdjust="spacingAndGlyphs" text-anchor="middle" filter="url(#sh)">Materials</text>
<text x="0" y="0" transform="translate(1286.2,1644.4) rotate(25.00)" font-size="46.5" fill="#fff" textLength="484.6" lengthAdjust="spacingAndGlyphs" text-anchor="start" filter="url(#sh)">Being Imaginative and</text>
<text x="0" y="0" transform="translate(1374.6,1757.5) rotate(25.00)" font-size="46.5" fill="#fff" textLength="230.6" lengthAdjust="spacingAndGlyphs" text-anchor="start" filter="url(#sh)">Expressive</text>
<text x="0" y="0" transform="translate(989.4,1507.7) rotate(-101.00)" font-size="46.5" fill="#fff" textLength="362.1" lengthAdjust="spacingAndGlyphs" text-anchor="start" filter="url(#sh)">Past and Present</text>
<text x="0" y="0" transform="translate(1166.0,1525.6) rotate(-101.00)" font-size="46.5" fill="#fff" textLength="424.7" lengthAdjust="spacingAndGlyphs" text-anchor="start" filter="url(#sh)">People, Culture and</text>
<text x="0" y="0" transform="translate(1211.9,1444.1) rotate(-101.00)" font-size="46.5" fill="#fff" textLength="283.3" lengthAdjust="spacingAndGlyphs" text-anchor="start" filter="url(#sh)">Communities</text>
<text x="0" y="0" transform="translate(1396.8,1352.7) rotate(-101.00)" font-size="46.5" fill="#fff" textLength="257.2" lengthAdjust="spacingAndGlyphs" text-anchor="start" filter="url(#sh)">The Natural</text>
<text x="0" y="0" transform="translate(1447.3,1278.8) rotate(-101.00)" font-size="46.5" fill="#fff" textLength="132.2" lengthAdjust="spacingAndGlyphs" text-anchor="start" filter="url(#sh)">World</text>
<text x="0" y="0" transform="translate(996.0,835.7) rotate(-53.00)" font-size="46.5" fill="#fff" textLength="416.2" lengthAdjust="spacingAndGlyphs" text-anchor="start" filter="url(#sh)">Listening, Attention</text>
<text x="0" y="0" transform="translate(1047.9,871.7) rotate(-53.00)" font-size="46.5" fill="#fff" textLength="415.4" lengthAdjust="spacingAndGlyphs" text-anchor="start" filter="url(#sh)">and Understanding</text>
<text x="0" y="0" transform="translate(1343.6,935.9) rotate(-52.50)" font-size="46.5" fill="#fff" textLength="210.4" lengthAdjust="spacingAndGlyphs" text-anchor="start" filter="url(#sh)">Speaking</text>
<text x="0" y="0" transform="translate(89.0,2245.1) rotate(0.00)" font-size="46.5" fill="#00BF63" textLength="471.2" lengthAdjust="spacingAndGlyphs" text-anchor="start">Positive Relationships</text>
<text x="0" y="0" transform="translate(747.0,2245.1) rotate(0.00)" font-size="46.5" fill="#40B7D6" textLength="580.0" lengthAdjust="spacingAndGlyphs" text-anchor="start">Learning and development</text>
<text x="0" y="0" transform="translate(1587.3,2245.1) rotate(0.00)" font-size="46.5" fill="#3EAEA5" textLength="282.5" lengthAdjust="spacingAndGlyphs" text-anchor="start">Unique Child</text>
<text x="0" y="0" transform="translate(2173.0,2245.1) rotate(0.00)" font-size="46.5" fill="#FF7E56" textLength="492.0" lengthAdjust="spacingAndGlyphs" text-anchor="start">Enabling Environments</text>
<text x="0" y="0" transform="translate(2854.0,2245.1) rotate(0.00)" font-size="46.5" fill="#FF3D3D" textLength="552.0" lengthAdjust="spacingAndGlyphs" text-anchor="start">Teaching and Supporting</text>
</svg></body></html>
